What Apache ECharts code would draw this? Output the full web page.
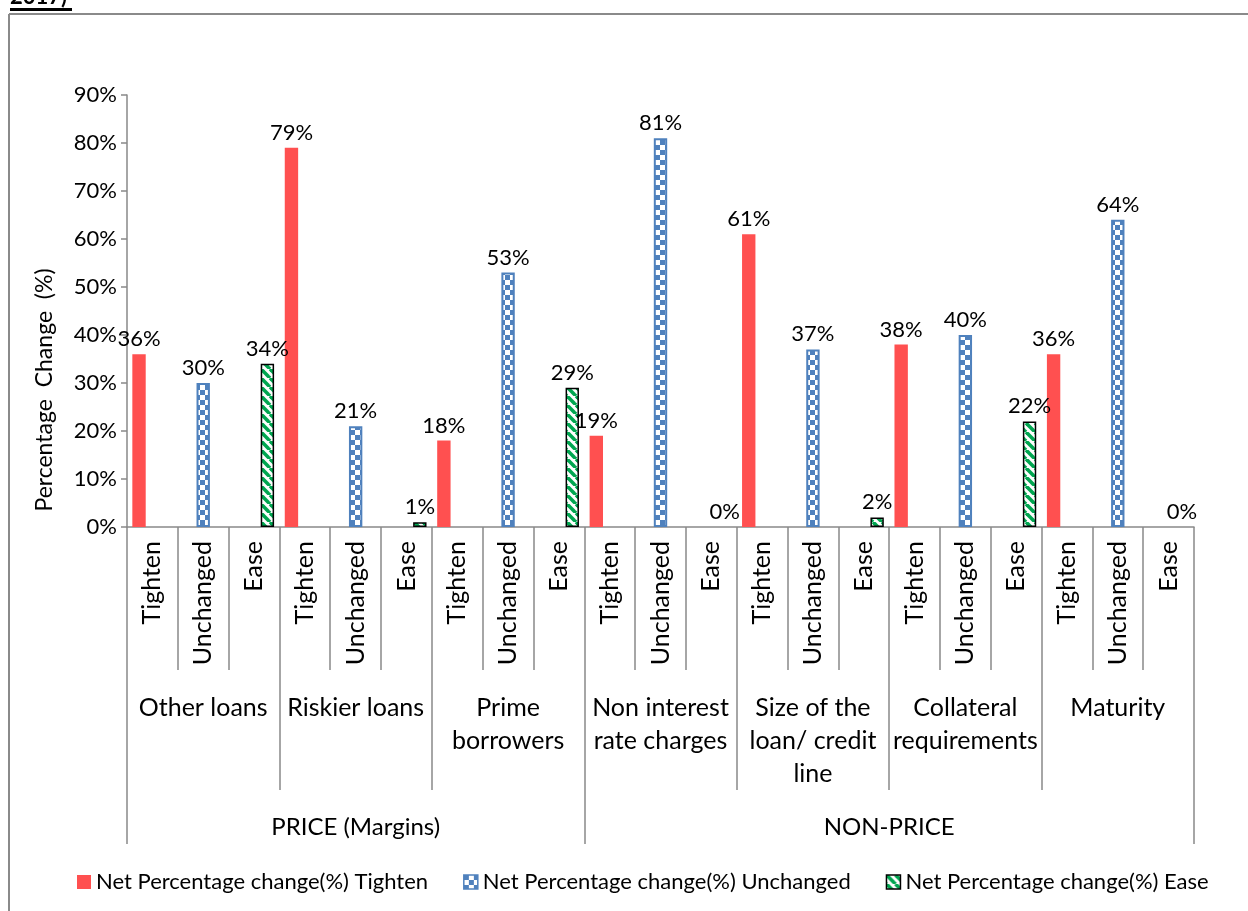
<!DOCTYPE html>
<html>
<head>
<meta charset="utf-8">
<title>Credit standards: net percentage change</title>
<script src="https://cdn.jsdelivr.net/npm/echarts@6/dist/echarts.min.js"></script>
<style>
  html, body { margin: 0; padding: 0; background: #fff; }
  #chart { width: 1248px; height: 911px; }
</style>
</head>
<body>
<div id="chart"></div>
<script>
// Inner categories (one per bar slot)
const responses = ['Tighten', 'Unchanged', 'Ease'];
// Middle level: loan terms
const terms = ['Other loans', 'Riskier loans', 'Prime\nborrowers', 'Non interest\nrate charges',
               'Size of the\nloan/ credit\nline', 'Collateral\nrequirements', 'Maturity'];
// Outer level: price / non-price, and how many terms each covers
const groups = ['PRICE (Margins)', 'NON-PRICE'];
const groupSpans = [3, 4];

// Net percentage change (%) by term
const tightenVals   = [36, 79, 18, 19, 61, 38, 36];
const unchangedVals = [30, 21, 53, 81, 37, 40, 64];
const easeVals      = [34, 1, 29, 0, 2, 22, 0];

const seriesNames = [
  'Net Percentage change(%) Tighten',
  'Net Percentage change(%) Unchanged',
  'Net Percentage change(%) Ease'
];
const yTicks = [0, 10, 20, 30, 40, 50, 60, 70, 80, 90];

// Flattened category list: 7 terms x 3 responses
const categories = [];
terms.forEach(() => responses.forEach(r => categories.push(r)));

// Outer-level category per slot, plus boundary / label slots
const groupOfSlot = [];
const groupStartSlots = [];
const groupMidSlots = []; // fractional slot index of each group's centre
groups.forEach((g, gi) => {
  const start = groupOfSlot.length;
  groupStartSlots.push(start);
  const n = groupSpans[gi] * responses.length;
  for (let i = 0; i < n; i++) groupOfSlot.push(g);
  groupMidSlots.push(start + (n - 1) / 2);
});

// Each series only has a value in its own response slot
function spread(vals, slot) {
  const out = [];
  vals.forEach(v => {
    for (let i = 0; i < 3; i++) {
      if (i !== slot) out.push(null);
      else if (v === 0) out.push({ value: 0, itemStyle: { borderWidth: 0 } });
      else out.push(v);
    }
  });
  return out;
}

const FONT = 'Lato, "Open Sans", sans-serif';
const AXIS_GRAY = '#898989';

const GRID = { left: 127, right: 54, top: 95, bottom: 384 };
const bandWidth = (1248 - GRID.left - GRID.right) / categories.length;

// Fill patterns
function checkerPattern() {
  const c = document.createElement('canvas');
  c.width = 10; c.height = 10;
  const g = c.getContext('2d');
  g.fillStyle = '#ffffff';
  g.fillRect(0, 0, 10, 10);
  g.fillStyle = '#4F81BD';
  g.fillRect(0, 0, 5, 5);
  g.fillRect(5, 5, 5, 5);
  return c;
}
function stripePattern() {
  const s = 9;
  const c = document.createElement('canvas');
  c.width = s; c.height = s;
  const g = c.getContext('2d');
  g.fillStyle = '#ffffff';
  g.fillRect(0, 0, s, s);
  g.strokeStyle = '#00A650';
  g.lineWidth = 3.6;
  for (let k = -1; k <= 1; k++) {
    g.beginPath();
    g.moveTo(k * s, 0);
    g.lineTo(k * s + s, s);
    g.stroke();
  }
  return c;
}
const bluePattern = { image: checkerPattern(), repeat: 'repeat' };
const greenPattern = { image: stripePattern(), repeat: 'repeat' };

const labelStyle = {
  show: true,
  position: 'top',
  distance: 4,
  formatter: p => p.value + '%',
  color: '#000',
  fontFamily: FONT,
  fontSize: 22
};

const chart = echarts.init(document.getElementById('chart'), null, { renderer: 'canvas' });

const option = {
  backgroundColor: '#ffffff',
  animation: false,
  grid: Object.assign({ containLabel: false }, GRID),
  legend: {
    left: 72,
    top: 866,
    itemWidth: 14,
    itemHeight: 14,
    itemGap: 35,
    icon: 'rect',
    textStyle: { fontFamily: FONT, fontSize: 22, color: '#000' },
    data: [
      { name: seriesNames[0], itemStyle: { color: '#FF5050' } },
      { name: seriesNames[1], itemStyle: { color: bluePattern, borderColor: '#4F81BD', borderWidth: 1.5 } },
      { name: seriesNames[2], itemStyle: { color: greenPattern, borderColor: '#000', borderWidth: 1.5 } }
    ]
  },
  xAxis: [
    {
      type: 'category',
      data: categories,
      position: 'bottom',
      axisLine: { show: true, lineStyle: { color: AXIS_GRAY, width: 1.5 } },
      axisTick: { show: true, length: 143, lineStyle: { color: AXIS_GRAY, width: 1.5 } },
      axisLabel: { interval: 0, rotate: 90, margin: 14, color: '#000', fontFamily: FONT, fontSize: 25 }
    },
    {
      type: 'category',
      data: terms,
      position: 'bottom',
      axisLine: { show: false },
      axisTick: { show: true, length: 263, lineStyle: { color: AXIS_GRAY, width: 1.5 } },
      axisLabel: { interval: 0, margin: 164, lineHeight: 33, color: '#000', fontFamily: FONT, fontSize: 25 }
    },
    {
      // outer level laid out on the same 21 slots so the split lands between terms
      type: 'category',
      data: groupOfSlot,
      position: 'bottom',
      axisLine: { show: false },
      axisTick: {
        show: true,
        length: 317,
        interval: idx => groupStartSlots.indexOf(idx) >= 0,
        lineStyle: { color: AXIS_GRAY, width: 1.5 }
      },
      axisLabel: {
        interval: idx => groupMidSlots.some(m => Math.floor(m) === idx),
        margin: 284,
        lineHeight: 33,
        color: '#000',
        fontFamily: FONT,
        fontSize: 24,
        formatter: (value, idx) => {
          const m = groupMidSlots.find(mm => Math.floor(mm) === idx);
          return m % 1 === 0 ? '{c|' + value + '}' : '{h|' + value + '}';
        },
        rich: {
          c: { fontFamily: FONT, fontSize: 24, color: '#000', lineHeight: 33 },
          // centre falls on a slot boundary: push half a slot to the right
          h: { fontFamily: FONT, fontSize: 24, color: '#000', lineHeight: 33, padding: [0, 0, 0, bandWidth] }
        }
      }
    }
  ],
  yAxis: {
    type: 'value',
    min: yTicks[0],
    max: yTicks[yTicks.length - 1],
    interval: 10,
    splitLine: { show: false },
    axisLine: { show: true, lineStyle: { color: AXIS_GRAY, width: 1.5 } },
    axisTick: { show: true, inside: false, length: 6, lineStyle: { color: AXIS_GRAY, width: 1.5 } },
    axisLabel: { margin: 10, formatter: v => v + '%', color: '#000', fontFamily: FONT, fontSize: 22 }
  },
  series: [
    {
      name: seriesNames[0],
      type: 'bar',
      xAxisIndex: 0,
      data: spread(tightenVals, 0),
      barGap: '0%',
      barCategoryGap: '21%',
      itemStyle: { color: '#FF5050' },
      label: labelStyle
    },
    {
      name: seriesNames[1],
      type: 'bar',
      xAxisIndex: 0,
      data: spread(unchangedVals, 1),
      barGap: '0%',
      barCategoryGap: '21%',
      itemStyle: { color: bluePattern, borderColor: '#4F81BD', borderWidth: 2 },
      label: labelStyle
    },
    {
      name: seriesNames[2],
      type: 'bar',
      xAxisIndex: 0,
      data: spread(easeVals, 2),
      barGap: '0%',
      barCategoryGap: '21%',
      itemStyle: { color: greenPattern, borderColor: '#000', borderWidth: 1.5 },
      label: labelStyle
    }
  ],
  graphic: [
    // outer frame (top and left edges)
    { type: 'line', shape: { x1: 9, y1: 14, x2: 1248, y2: 14 }, style: { stroke: '#8A8A8A', lineWidth: 2 }, silent: true },
    { type: 'line', shape: { x1: 9, y1: 14, x2: 9, y2: 911 }, style: { stroke: '#8A8A8A', lineWidth: 2 }, silent: true },
    // heading fragment above the frame
    { type: 'text', left: 10, top: -14, style: { text: '2017)', font: 'bold 22px ' + FONT, fill: '#000' }, silent: true },
    { type: 'rect', shape: { x: 10, y: 8, width: 62, height: 3 }, style: { fill: '#000' }, silent: true },
    // y-axis title
    {
      type: 'text',
      x: 45, y: 390,
      rotation: Math.PI / 2,
      style: { text: 'Percentage  Change  (%)', font: '23px ' + FONT, fill: '#000', align: 'center', verticalAlign: 'middle' },
      silent: true
    }
  ]
};

chart.setOption(option);
</script>
</body>
</html>
